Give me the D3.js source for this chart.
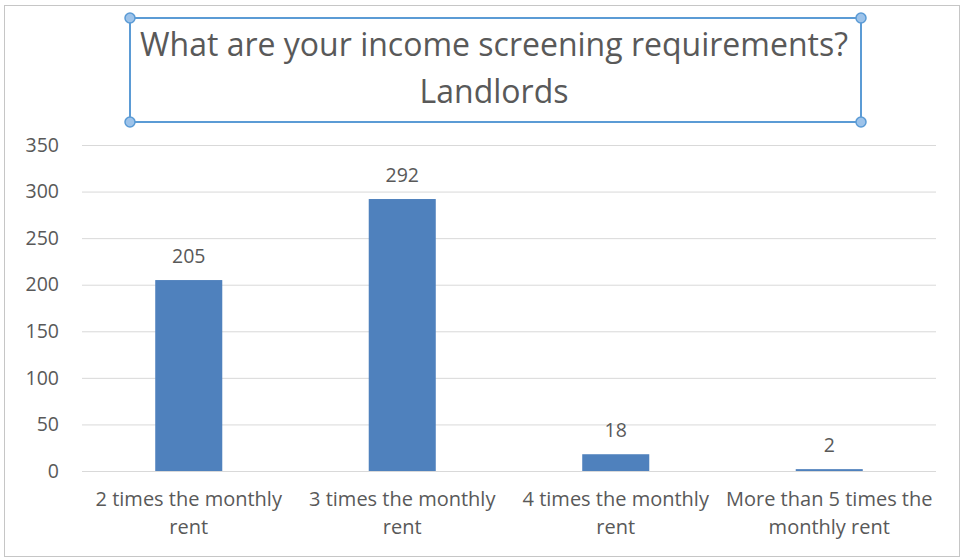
<!DOCTYPE html>
<html>
<head>
<meta charset="utf-8">
<script src="https://cdn.jsdelivr.net/npm/d3@7"></script>
<style>
  body { margin: 0; background: #fff; }
  text { font-family: "Open Sans", Lato, sans-serif; fill: #595959; }
</style>
</head>
<body>
<svg id="chart"></svg>
<script>
// data
var titleLines = ["What are your income screening requirements?", "Landlords"];
var categories = [
  ["2 times the monthly", "rent"],
  ["3 times the monthly", "rent"],
  ["4 times the monthly", "rent"],
  ["More than 5 times the", "monthly rent"]
];
var values = [205, 292, 18, 2];
var yTicks = [0, 50, 100, 150, 200, 250, 300, 350];

var outerWidth = 964, outerHeight = 559;
var margins = { left: 82, right: 28, top: 145, bottom: 88 };
var innerWidth = outerWidth - margins.left - margins.right;
var innerHeight = outerHeight - margins.top - margins.bottom;

var svg = d3.select('svg#chart')
  .attr('width', outerWidth)
  .attr('height', outerHeight);

// chart frame
svg.append('rect')
  .attr('x', 4.5).attr('y', 5.5)
  .attr('width', 955).attr('height', 551)
  .attr('fill', '#fff')
  .attr('stroke', '#c6c6c6');

var xScale = d3.scaleBand()
  .domain(d3.range(categories.length))
  .range([0, innerWidth])
  .paddingInner(0.686)
  .paddingOuter(0.343);

var yScale = d3.scaleLinear()
  .domain([0, 350])
  .range([innerHeight, 0]);

var g = svg.append('g')
  .attr('transform', 'translate(' + margins.left + ',' + margins.top + ')');

// gridlines + y labels
var yAxis = d3.axisLeft(yScale)
  .tickValues(yTicks)
  .tickSize(-innerWidth)
  .tickPadding(23);

var gy = g.append('g').attr('class', 'y-axis').call(yAxis);
gy.select('.domain').remove();
gy.selectAll('.tick line').attr('stroke', '#d9d9d9');
gy.selectAll('.tick text')
  .style('font-size', '19.5px')
  .style('font-family', '"Open Sans", sans-serif')
  .attr('fill', '#595959');

// bars
g.selectAll('rect.bar')
  .data(values)
  .enter()
  .append('rect')
  .attr('class', 'bar')
  .attr('x', (d, i) => xScale(i))
  .attr('y', d => yScale(d))
  .attr('width', xScale.bandwidth())
  .attr('height', d => innerHeight - yScale(d))
  .attr('fill', '#4f81bd');

// value labels
g.selectAll('text.val')
  .data(values)
  .enter()
  .append('text')
  .attr('class', 'val')
  .attr('x', (d, i) => xScale(i) + xScale.bandwidth() / 2)
  .attr('y', d => yScale(d) - 17)
  .attr('text-anchor', 'middle')
  .style('font-size', '19.5px')
  .text(d => d);

// category labels
var xAxis = d3.axisBottom(xScale).tickSize(0).tickFormat('');
var gx = g.append('g')
  .attr('transform', 'translate(0,' + innerHeight + ')')
  .call(xAxis);
gx.select('.domain').remove();
gx.selectAll('.tick')
  .append('text')
  .attr('text-anchor', 'middle')
  .style('font-size', '20px')
  .style('font-family', '"Open Sans", sans-serif')
  .attr('fill', '#595959')
  .selectAll('tspan')
  .data(i => categories[i])
  .enter()
  .append('tspan')
  .attr('x', 0)
  .attr('y', (d, j) => 35 + j * 28)
  .text(d => d);

// title with selection box
var titleG = svg.append('g');
titleG.append('rect')
  .attr('x', 130).attr('y', 18)
  .attr('width', 731).attr('height', 104)
  .attr('fill', 'none')
  .attr('stroke', '#5b9bd5')
  .attr('stroke-width', 2);

titleG.selectAll('text')
  .data(titleLines)
  .enter()
  .append('text')
  .attr('x', 494)
  .attr('y', (d, i) => 56 + i * 47)
  .attr('text-anchor', 'middle')
  .style('font-size', '32px')
  .text(d => d);

var handles = [[130, 18], [861, 18], [130, 122], [861, 122]];
titleG.selectAll('circle')
  .data(handles)
  .enter()
  .append('circle')
  .attr('cx', d => d[0])
  .attr('cy', d => d[1])
  .attr('r', 5)
  .attr('fill', '#9dc3ea')
  .attr('stroke', '#5b9bd5')
  .attr('stroke-width', 1.5);
</script>
</body>
</html>
